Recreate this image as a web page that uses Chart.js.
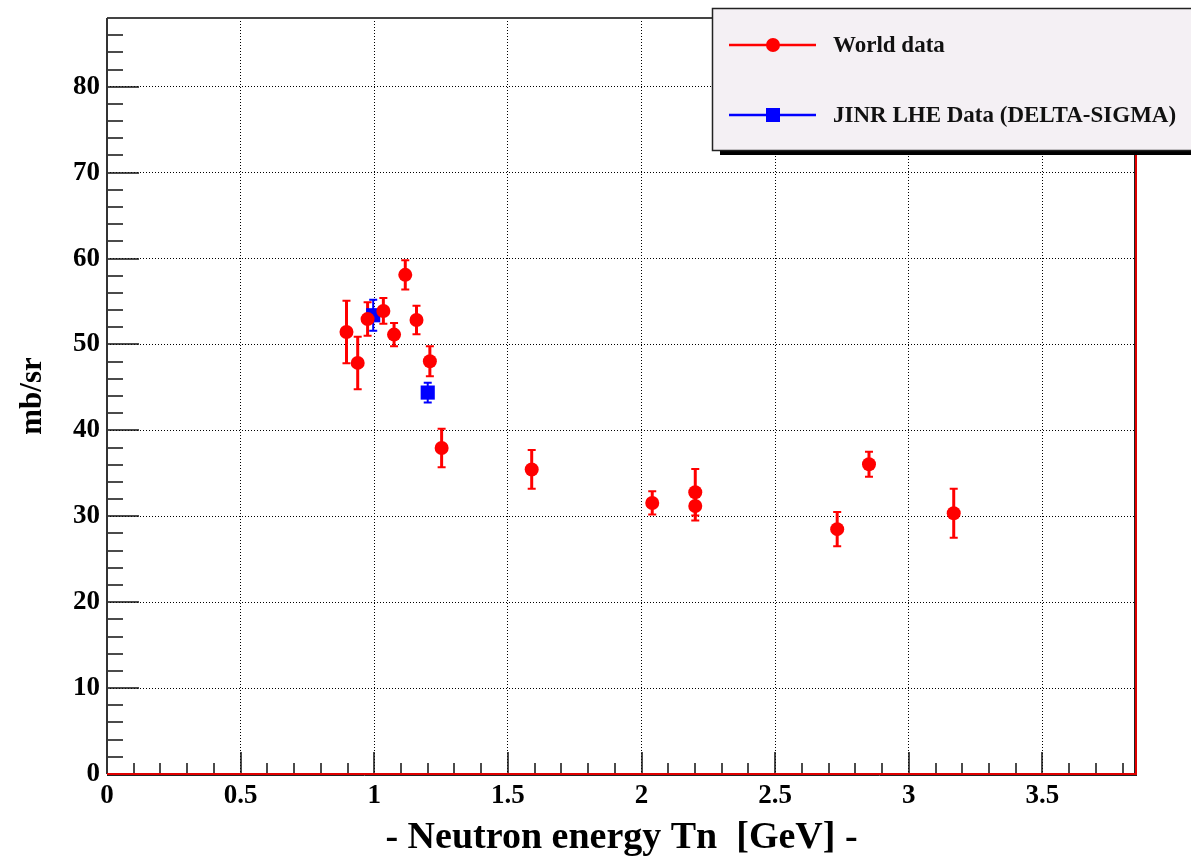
<!DOCTYPE html>
<html>
<head>
<meta charset="utf-8">
<script src="https://cdn.jsdelivr.net/npm/chart.js@4/dist/chart.umd.min.js"></script>
<style>
html,body{margin:0;padding:0;background:#fff;overflow:hidden;}
canvas{display:block;}
</style>
</head>
<body>
<canvas id="c" width="1191" height="857"></canvas>
<script>
// ---- data ----
const worldX   = [0.896, 0.938, 0.975, 1.034, 1.074, 1.116, 1.158, 1.208, 1.252, 1.589, 2.040, 2.201, 2.201, 2.732, 2.851, 3.168];
const worldY   = [51.45, 47.85, 52.95, 53.9, 51.15, 58.1, 52.85, 48.05, 37.95, 35.45, 31.55, 32.8, 31.2, 28.5, 36.05, 30.35];
const worldErr = [3.65, 3.05, 1.95, 1.5, 1.35, 1.7, 1.65, 1.75, 2.25, 2.25, 1.35, 2.7, 1.7, 2.0, 1.45, 2.85];
const jinrX    = [0.996, 1.200];
const jinrY    = [53.4, 44.4];
const jinrErr  = [1.8, 1.15];
const seriesNames = ['World data', 'JINR LHE Data (DELTA-SIGMA)'];
const xAxisTitle = '- Neutron energy Tn  [GeV] -';
const yAxisTitle = 'mb/sr';
const xRange = [0, 3.85], yRange = [0, 88];
const xMajor = 0.5, xMinor = 0.1, yMajor = 10, yMinor = 2;

const SERIF = "'Liberation Serif', 'Times New Roman', serif";

function pts(xs, ys, es){ return xs.map((x,i)=>({x:x, y:ys[i], err:es[i]})); }

const errorBars = {
  id: 'errorBars',
  beforeDatasetsDraw(chart){
    const {ctx, scales:{x, y}} = chart;
    chart.data.datasets.forEach(ds => {
      ctx.save();
      ctx.strokeStyle = ds.borderColor;
      ds.data.forEach(p => {
        const px = x.getPixelForValue(p.x);
        const t = y.getPixelForValue(p.y + p.err);
        const b = y.getPixelForValue(p.y - p.err);
        ctx.lineWidth = ds.errWidth;
        ctx.beginPath(); ctx.moveTo(px, t); ctx.lineTo(px, b); ctx.stroke();
        ctx.lineWidth = 2;
        ctx.beginPath();
        ctx.moveTo(px - ds.capHalf, t); ctx.lineTo(px + ds.capHalf, t);
        ctx.moveTo(px - ds.capHalf, b); ctx.lineTo(px + ds.capHalf, b);
        ctx.stroke();
      });
      ctx.restore();
    });
  }
};

const frameAndLegend = {
  id: 'frameAndLegend',
  afterDraw(chart){
    const {ctx, chartArea:a, scales:{x, y}} = chart;
    ctx.save();
    // minor & major ticks (inward)
    ctx.strokeStyle = '#111'; ctx.lineWidth = 1.5;
    ctx.beginPath();
    for (let v = yRange[0]; v <= yRange[1] + 1e-9; v += yMinor) {
      const py = Math.round(y.getPixelForValue(v));
      const major = Math.abs(v / yMajor - Math.round(v / yMajor)) < 1e-6;
      ctx.moveTo(a.left, py); ctx.lineTo(a.left + (major ? 32 : 16), py);
    }
    for (let v = xRange[0]; v <= xRange[1] + 1e-9; v += xMinor) {
      const px = Math.round(x.getPixelForValue(v));
      const major = Math.abs(v / xMajor - Math.round(v / xMajor)) < 1e-6;
      ctx.moveTo(px, a.bottom); ctx.lineTo(px, a.bottom - (major ? 22 : 11));
    }
    ctx.stroke();
    // frame
    ctx.lineWidth = 2;
    ctx.strokeStyle = '#444';
    ctx.beginPath(); ctx.moveTo(a.left, a.top); ctx.lineTo(a.right, a.top); ctx.stroke();
    ctx.strokeStyle = '#333';
    ctx.beginPath(); ctx.moveTo(a.left, a.top); ctx.lineTo(a.left, a.bottom); ctx.stroke();
    // bottom & right edges (black + red)
    ctx.strokeStyle = '#222'; ctx.lineWidth = 1;
    ctx.beginPath(); ctx.moveTo(a.left, a.bottom + 1.5); ctx.lineTo(a.right + 1, a.bottom + 1.5); ctx.stroke();
    ctx.beginPath(); ctx.moveTo(a.right - 1.5, a.top); ctx.lineTo(a.right - 1.5, a.bottom); ctx.stroke();
    ctx.strokeStyle = '#e00000'; ctx.lineWidth = 2;
    ctx.beginPath(); ctx.moveTo(a.left, a.bottom); ctx.lineTo(a.right, a.bottom); ctx.lineTo(a.right, a.top); ctx.stroke();

    // legend box with shadow
    const lx = 712, ly = 8, lw = 490, lh = 142;
    ctx.fillStyle = '#000';
    ctx.fillRect(lx + 8, ly + 5, lw, lh);
    ctx.fillStyle = '#f4f0f4';
    ctx.fillRect(lx, ly, lw, lh);
    ctx.strokeStyle = '#222'; ctx.lineWidth = 1.5;
    ctx.strokeRect(lx + 0.5, ly + 0.5, lw, lh);

    const entries = chart.data.datasets;
    const rows = [45, 115];
    entries.forEach((ds, i) => {
      const ry = rows[i];
      ctx.strokeStyle = ds.borderColor; ctx.lineWidth = 2.5;
      ctx.beginPath(); ctx.moveTo(729, ry); ctx.lineTo(816, ry); ctx.stroke();
      ctx.fillStyle = ds.backgroundColor;
      if (ds.pointStyle === 'rect') {
        ctx.fillRect(773 - 7, ry - 7, 14, 14);
      } else {
        ctx.beginPath(); ctx.arc(773, ry, 7, 0, Math.PI * 2); ctx.fill();
      }
      ctx.fillStyle = '#111';
      ctx.font = 'bold 23px ' + SERIF;
      ctx.textBaseline = 'middle';
      ctx.textAlign = 'left';
      ctx.fillText(ds.label, 833, ry + 1);
    });
    ctx.restore();
  }
};

new Chart(document.getElementById('c'), {
  type: 'scatter',
  data: {
    datasets: [
      {
        label: seriesNames[0],
        data: pts(worldX, worldY, worldErr),
        borderColor: '#ff0000',
        backgroundColor: '#ff0000',
        pointStyle: 'circle',
        pointRadius: 7,
        pointHoverRadius: 7,
        pointBorderWidth: 0,
        showLine: false,
        errWidth: 3,
        capHalf: 4
      },
      {
        label: seriesNames[1],
        data: pts(jinrX, jinrY, jinrErr),
        borderColor: '#0000ff',
        backgroundColor: '#0000ff',
        pointStyle: 'rect',
        pointRadius: 10,
        pointHoverRadius: 10,
        pointBorderWidth: 0,
        showLine: false,
        errWidth: 2,
        capHalf: 4
      }
    ]
  },
  options: {
    responsive: false,
    animation: false,
    devicePixelRatio: 1,
    layout: { padding: { left: 0, top: 18, right: 55, bottom: 0 } },
    plugins: { legend: { display: false }, tooltip: { enabled: false } },
    scales: {
      x: {
        type: 'linear',
        min: xRange[0], max: xRange[1],
        afterFit(s){ s.height = 83; s.paddingLeft = 0; s.paddingRight = 0; },
        ticks: {
          stepSize: xMajor, includeBounds: false, padding: 6, color: '#000',
          font: { family: SERIF, size: 27, weight: 'bold' },
          callback: v => String(+v.toFixed(2))
        },
        grid: { color: '#000', lineWidth: 1, drawTicks: false },
        border: { display: false, dash: [1, 2] },
        title: {
          display: true, text: xAxisTitle, color: '#000',
          font: { family: SERIF, size: 38, weight: 'bold', lineHeight: 1 },
          padding: { top: 0, bottom: 0 }
        }
      },
      y: {
        type: 'linear',
        min: yRange[0], max: yRange[1],
        afterFit(s){ s.width = 107; s.paddingTop = 0; s.paddingBottom = 0; },
        ticks: {
          stepSize: yMajor, includeBounds: false, padding: 7, color: '#000',
          font: { family: SERIF, size: 27, weight: 'bold' }
        },
        grid: { color: '#000', lineWidth: 1, drawTicks: false },
        border: { display: false, dash: [1, 2] },
        title: {
          display: true, text: yAxisTitle, color: '#000',
          font: { family: SERIF, size: 31, weight: 'bold', lineHeight: 1 },
          padding: { top: 17, bottom: 0 }
        }
      }
    }
  },
  plugins: [errorBars, frameAndLegend]
});
</script>
</body>
</html>
